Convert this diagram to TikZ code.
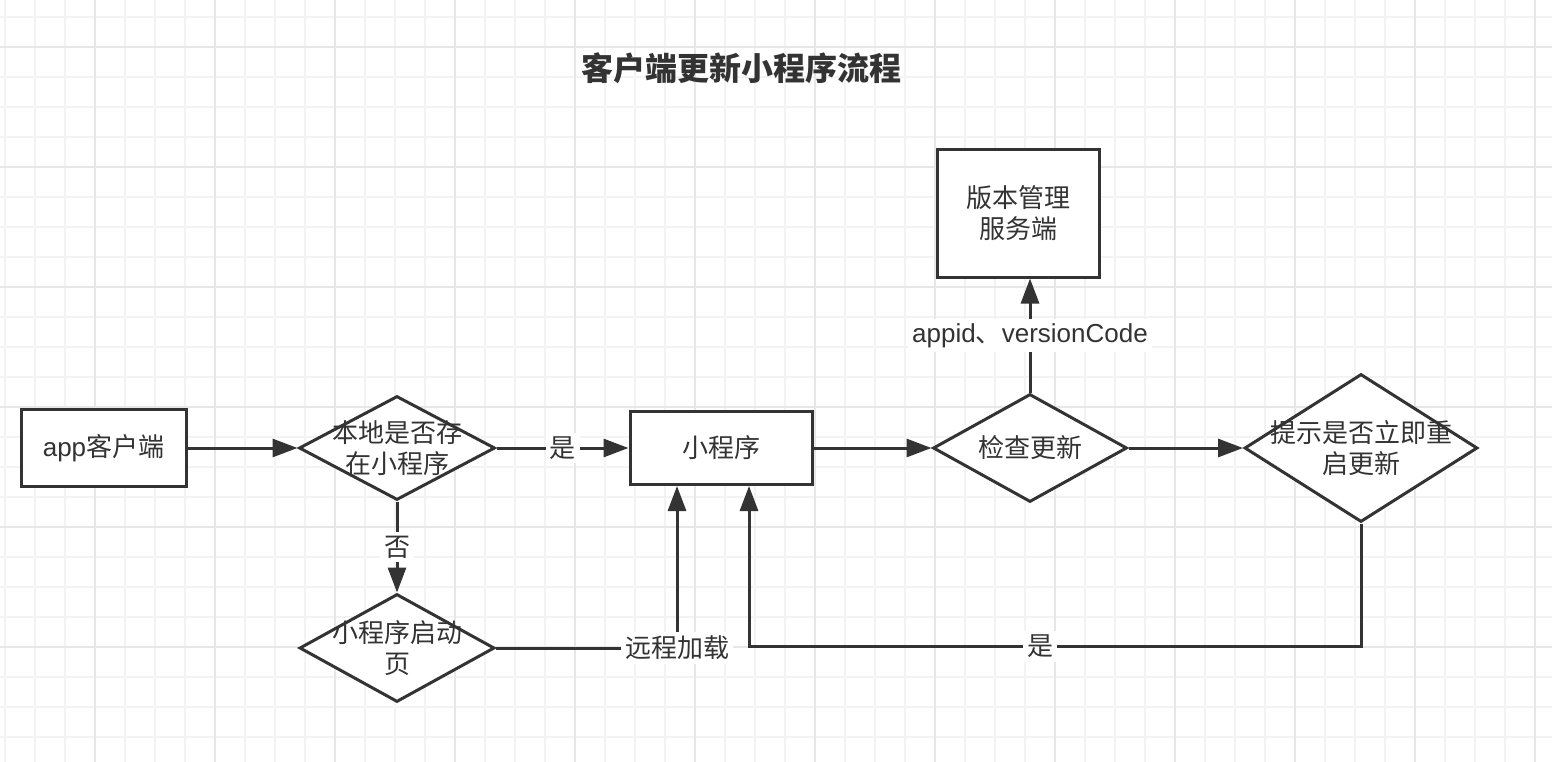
\documentclass[tikz,border=0pt]{standalone}
\usepackage{fontspec}
\setmainfont{Noto Sans CJK SC}
\newfontfamily\lat{Liberation Sans}
\usetikzlibrary{shapes.geometric,arrows.meta,calc}
\definecolor{ink}{HTML}{333333}
\definecolor{gmin}{HTML}{F3F3F3}
\definecolor{gmaj}{HTML}{E7E7E7}
\begin{document}
\begin{tikzpicture}[x=1pt,y=-1pt,
 every node/.style={font=\fontsize{26}{31}\selectfont, text=ink},
 box/.style={draw=ink, line width=3pt, fill=white, rectangle, inner sep=0pt, align=center},
 dia/.style={draw=ink, line width=3pt, fill=white, diamond, inner sep=0pt},
 txt/.style={align=center, inner sep=0pt},
 conn/.style={draw=ink, line width=3pt, -{Triangle[length=25pt,width=18pt]}},
 lab/.style={fill=white, inner sep=4pt}]
\useasboundingbox (0,0) rectangle (1552,762);
\fill[white] (0,0) rectangle (1552,762);
% grid
\foreach \i in {0,...,51}{\draw[gmin, line width=1.6pt] ({5+30*\i},0) -- ({5+30*\i},762);}
\foreach \j in {0,...,25}{\draw[gmin, line width=1.6pt] (0,{17+30*\j}) -- (1552,{17+30*\j});}
\foreach \i in {3,7,...,51}{\draw[gmaj, line width=1.6pt] ({5+30*\i},0) -- ({5+30*\i},762);}
\foreach \j in {1,5,...,25}{\draw[gmaj, line width=1.6pt] (0,{17+30*\j}) -- (1552,{17+30*\j});}
% title
\node[font=\fontsize{32}{38}\selectfont\bfseries] (title) at (741,68) {客户端更新小程序流程};
% nodes
\node[box, minimum width=165pt, minimum height=77pt] (app) at (103.5,448) {{\lat app}客户端};
\node[dia, minimum width=196pt, minimum height=104pt] (d1) at (397,448) {};
\node[txt] (t1) at (d1) {本地是否存\\在小程序};
\node[box, minimum width=182pt, minimum height=73pt] (prog) at (721,448) {小程序};
\node[dia, minimum width=194pt, minimum height=108pt] (chk) at (1030,448) {};
\node[txt] (t2) at (chk) {检查更新};
\node[box, minimum width=162pt, minimum height=127pt] (srv) at (1018,213.5) {版本管理\\服务端};
\node[dia, minimum width=233pt, minimum height=148pt] (tip) at (1361,448) {};
\node[txt] (t3) at (tip) {提示是否立即重\\启更新};
\node[dia, minimum width=195pt, minimum height=108pt] (d2) at (397,648) {};
\node[txt] (t4) at (d2) {小程序启动\\页};
% connectors
\draw[conn] (app.east) -- (d1.west);
\draw[conn] (d1.east) -- node[lab]{是} (prog.west);
\draw[conn] (d1.south) -- node[lab]{否} (d2.north);
\draw[conn] (d2.east) -| node[lab,pos=0.5]{远程加载} ([xshift=-44pt]prog.south);
\draw[conn] (prog.east) -- (chk.west);
\draw[conn] (chk.east) -- (tip.west);
\draw[conn] (chk.north) -- node[lab]{{\lat appid}、{\lat versionCode}} (chk.north |- srv.south);
\draw[conn] (tip.south) -- ++(0,123) -| node[lab,pos=0.262]{是} ([xshift=28pt]prog.south);
\end{tikzpicture}
\end{document}
